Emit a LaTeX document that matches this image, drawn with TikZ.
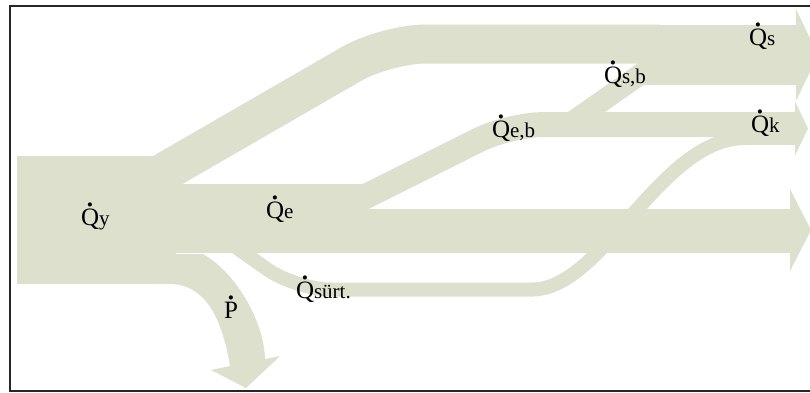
\documentclass[tikz,border=0pt]{standalone}
\usepackage{fontspec}
\setmainfont{Liberation Serif}
\definecolor{flow}{RGB}{220,224,204}
\newcommand\qdot[1]{\leavevmode\ooalign{#1\cr\hidewidth\raisebox{0.76em}{\scalebox{1.4}{.}}\hidewidth\cr}}
\newcommand\flowlabel[2]{{\fontsize{25}{25}\selectfont\qdot{#1}}{\fontsize{21}{21}\selectfont #2}}
\begin{document}
\begin{tikzpicture}[x=1pt,y=-1pt,
  lbl/.style={anchor=base west, inner sep=0pt, outer sep=0pt}]
\useasboundingbox (0,0) rectangle (810,392);
% Qy block
\fill[flow] (17,156) rectangle (176,284);
% top band (Qs)
\draw[flow, line width=39, rounded corners=40] (100,209.1) -- (386,44) -- (660,44);
\fill[flow] (641,25) rectangle (797,85);
\fill[flow] (796,9) -- (818,55) -- (796,101) -- cycle;
% Qs,b branch
\fill[flow] (568,112) -- (656.6,50) -- (693.6,50) -- (605,112) -- cycle;
% Qe band
\fill[flow] (175,184) rectangle (362,253);
\fill[flow] (355,209) rectangle (791,253);
\fill[flow] (790,189) -- (811,230) -- (790,271) -- cycle;
% Qe,b / Qk band
\draw[flow, line width=25, rounded corners=35] (320,219.3) -- (509.5,124.5) -- (796,124.5);
\fill[flow] (728,112) rectangle (796,145);
\fill[flow] (795,101.5) -- (808,128.5) -- (795,155.5) -- cycle;
% friction band
\draw[flow, line width=14, rounded corners=35] (220,236) -- (296,289.5) -- (533,289.5);
\draw[flow, line width=14] (532,289.5) .. controls (603,289.5) and (660,138) .. (745,138);
% P band
\fill[flow] (150,284) -- (170,284) .. controls (205,284) and (222,318) .. (230,366)
  -- (211,370) -- (246,388) -- (280,356) -- (265,359)
  .. controls (264,320) and (235,272) .. (203,254) -- (150,254) -- cycle;
% labels
\node[lbl] (qy) at (81,225) {\flowlabel{Q}{y}};
\node[lbl] (qe) at (266,218) {\flowlabel{Q}{e}};
\node[lbl] (qsurt) at (296,298) {\flowlabel{Q}{sürt.}};
\node[lbl] (p) at (224,318) {\flowlabel{P}{}};
\node[lbl] (qeb) at (492,137) {\flowlabel{Q}{e,b}};
\node[lbl] (qsb) at (604,83) {\flowlabel{Q}{s,b}};
\node[lbl] (qs) at (749,45) {\flowlabel{Q}{s}};
\node[lbl] (qk) at (751,132) {\flowlabel{Q}{k}};
% frame
\draw[line width=2, black!85] (812,5.5) -- (10,5.5) -- (10,390.5) -- (812,390.5);
\end{tikzpicture}
\end{document}
